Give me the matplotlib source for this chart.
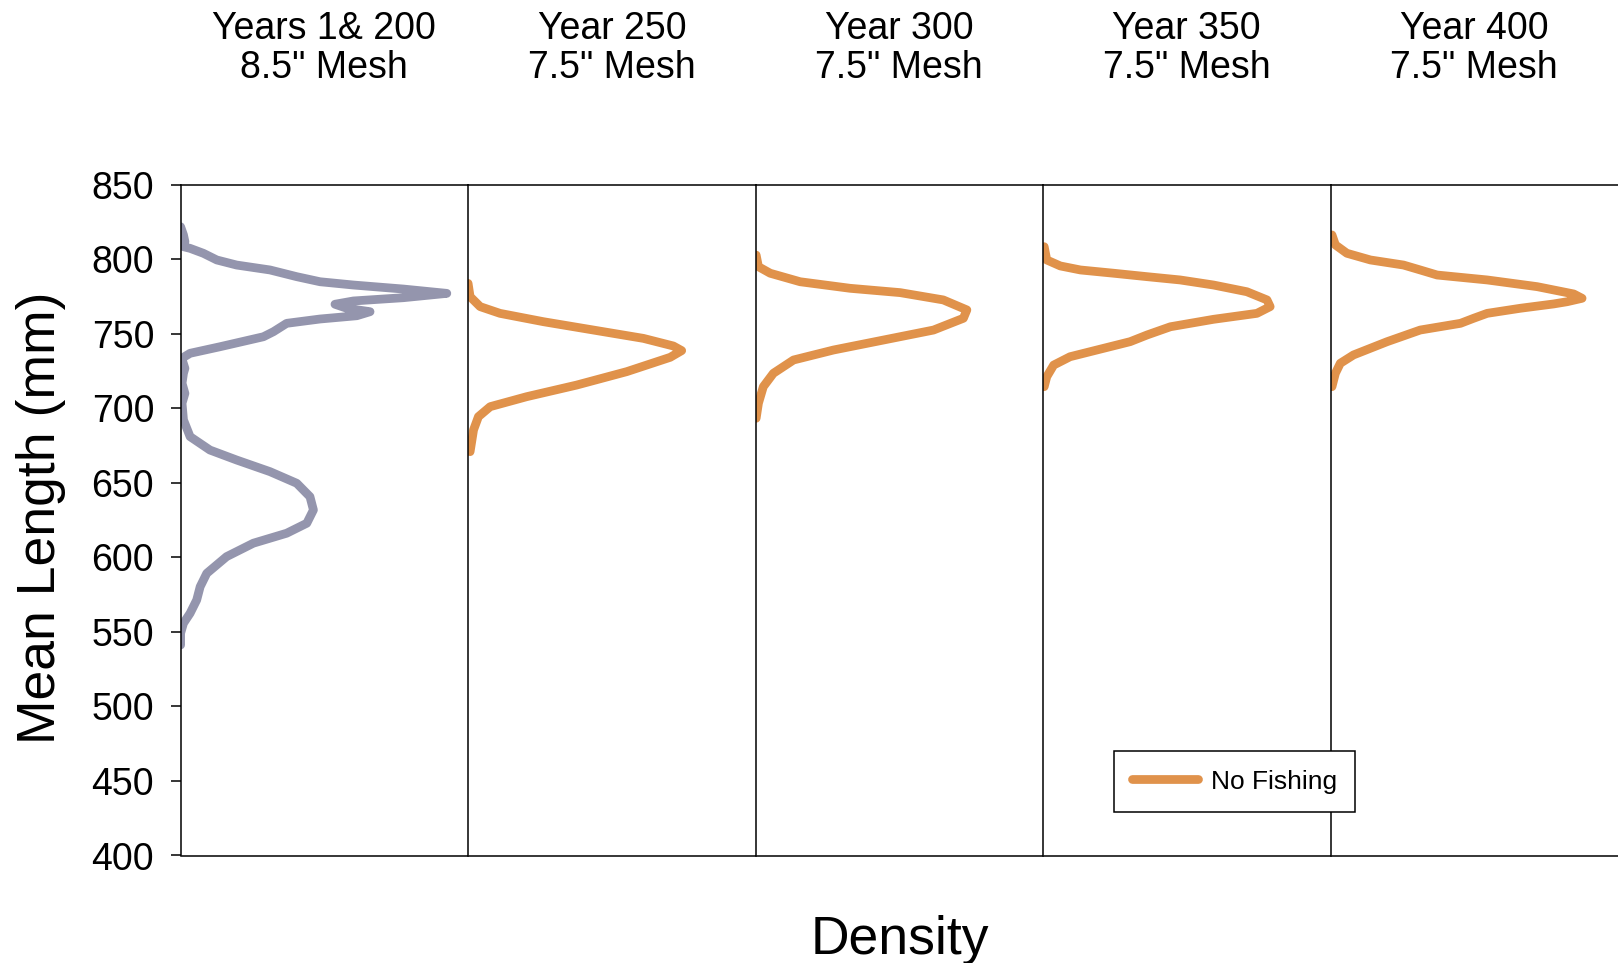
import matplotlib
matplotlib.use("Agg")
import matplotlib.pyplot as plt

plt.rcParams["font.family"] = ["Liberation Sans", "DejaVu Sans"]

# Panel headings
panel_titles = [
    "Years 1& 200\n8.5\" Mesh",
    "Year 250\n7.5\" Mesh",
    "Year 300\n7.5\" Mesh",
    "Year 350\n7.5\" Mesh",
    "Year 400\n7.5\" Mesh",
]

# Density curves (relative density, mean length in mm)
dens_y1_200 = [0.000, 0.010, 0.015, 0.010, 0.033, 0.079, 0.126, 0.195, 0.311, 0.404,
               0.485, 0.601, 0.775, 0.926, 0.775, 0.601, 0.537, 0.578, 0.659, 0.613,
               0.485, 0.369, 0.323, 0.288, 0.137, 0.033, 0.004, 0.015, 0.010, 0.005,
               0.015, 0.005, 0.010, 0.033, 0.102, 0.195, 0.311, 0.404, 0.450, 0.462,
               0.439, 0.369, 0.253, 0.160, 0.091, 0.068, 0.056, 0.033, 0.010, 0.000,
               0.000]
len_y1_200 = [821.8, 816.3, 811.8, 808.4, 807.3, 804.0, 799.5, 796.1, 792.8, 788.3,
              784.9, 782.7, 780.0, 777.1, 774.2, 772.0, 769.8, 767.1, 764.8, 762.1,
              759.9, 757.0, 751.4, 748.0, 741.3, 736.9, 733.5, 726.8, 723.5, 716.8,
              710.0, 703.4, 692.2, 681.0, 672.0, 665.3, 657.5, 649.7, 640.7, 631.8,
              622.9, 616.2, 609.5, 600.5, 589.3, 580.3, 571.4, 562.5, 555.8, 549.1,
              541.2]

dens_y250 = [0.000, 0.007, 0.042, 0.111, 0.262, 0.436, 0.610, 0.714, 0.743, 0.703,
             0.552, 0.378, 0.204, 0.077, 0.036, 0.019, 0.007]
len_y250 = [783.8, 774.9, 768.2, 763.7, 758.1, 752.5, 746.9, 741.8, 738.7, 734.2,
            724.6, 715.6, 707.8, 701.1, 694.4, 685.5, 670.9]

dens_y300 = [0.002, 0.010, 0.051, 0.155, 0.329, 0.503, 0.653, 0.735, 0.723, 0.619,
             0.445, 0.271, 0.132, 0.062, 0.027, 0.010, 0.002]
len_y300 = [802.8, 795.0, 790.6, 784.9, 780.5, 777.6, 772.7, 766.0, 760.4, 752.5,
            745.8, 739.1, 732.4, 723.5, 714.5, 703.4, 693.3]

dens_y350 = [0.004, 0.013, 0.060, 0.130, 0.246, 0.362, 0.477, 0.593, 0.709, 0.779,
             0.790, 0.744, 0.593, 0.443, 0.362, 0.303, 0.187, 0.094, 0.037, 0.013,
             0.004]
len_y350 = [808.4, 799.5, 795.5, 792.8, 790.6, 788.3, 786.1, 782.7, 778.2, 772.7,
            768.2, 763.7, 759.7, 754.7, 749.2, 744.7, 739.1, 734.6, 729.0, 721.2,
            714.5]

dens_y400 = [0.005, 0.017, 0.057, 0.139, 0.254, 0.312, 0.371, 0.545, 0.719, 0.846,
             0.875, 0.823, 0.776, 0.660, 0.545, 0.498, 0.452, 0.312, 0.197, 0.080,
             0.034, 0.017, 0.005]
len_y400 = [816.3, 809.6, 804.0, 799.5, 796.1, 792.8, 789.4, 786.1, 781.6, 776.7,
            773.8, 771.5, 770.0, 767.1, 763.7, 760.4, 757.0, 752.5, 744.7, 735.8,
            730.2, 723.5, 714.5]

series = [
    (dens_y1_200, len_y1_200, "#9495AD", None),
    (dens_y250, len_y250, "#E0924B", "No Fishing"),
    (dens_y300, len_y300, "#E0924B", None),
    (dens_y350, len_y350, "#E0924B", None),
    (dens_y400, len_y400, "#E0924B", None),
]

y_ticks = [400, 450, 500, 550, 600, 650, 700, 750, 800, 850]

W, H = 1618, 963
fig = plt.figure(figsize=(W / 100, H / 100), dpi=100)

left_px, right_px = 180.6, 1618.0
top_px, bottom_px = 184.7, 855.5
panel_w = (right_px - left_px) / len(series)

legend_handle = None
for i, ((xs, ys, color, label), title) in enumerate(zip(series, panel_titles)):
    x0 = left_px + i * panel_w
    ax = fig.add_axes([x0 / W, 1 - bottom_px / H, panel_w / W, (bottom_px - top_px) / H])
    line, = ax.plot(xs, ys, color=color, lw=6.3, solid_capstyle="round",
                    solid_joinstyle="round", label=label)
    if label is not None:
        legend_handle = line
    ax.set_xlim(0, 1)
    ax.set_ylim(400, 850)
    ax.set_xticks([])
    ax.spines["right"].set_visible(False)
    for s in ("left", "top", "bottom"):
        ax.spines[s].set_linewidth(1.1)
        ax.spines[s].set_color("black")
    if i == 0:
        ax.set_yticks(y_ticks)
        ax.tick_params(axis="y", direction="out", length=7, width=1.1,
                       pad=12, labelsize=27)
    else:
        ax.set_yticks([])
    fig.text((x0 + panel_w / 2) / W, 1 - 48.5 / H, title, ha="center", va="center",
             fontsize=27, linespacing=1.1)

fig.text(41 / W, 1 - 518 / H, "Mean Length (mm)", rotation=90, ha="center",
         va="center", fontsize=38.5)
fig.text(900 / W, 1 - 940 / H, "Density", ha="center", va="center", fontsize=38.5)

leg = fig.legend([legend_handle], ["No Fishing"], loc="lower left",
                 bbox_to_anchor=(1114 / W, 1 - 812 / H), fontsize=19,
                 frameon=True, fancybox=False, edgecolor="black",
                 handlelength=2.5, borderpad=0.7, handletextpad=0.47,
                 borderaxespad=0)
leg.get_frame().set_linewidth(1.1)
leg.get_frame().set_alpha(1)

fig.savefig("out.png", dpi=100)
